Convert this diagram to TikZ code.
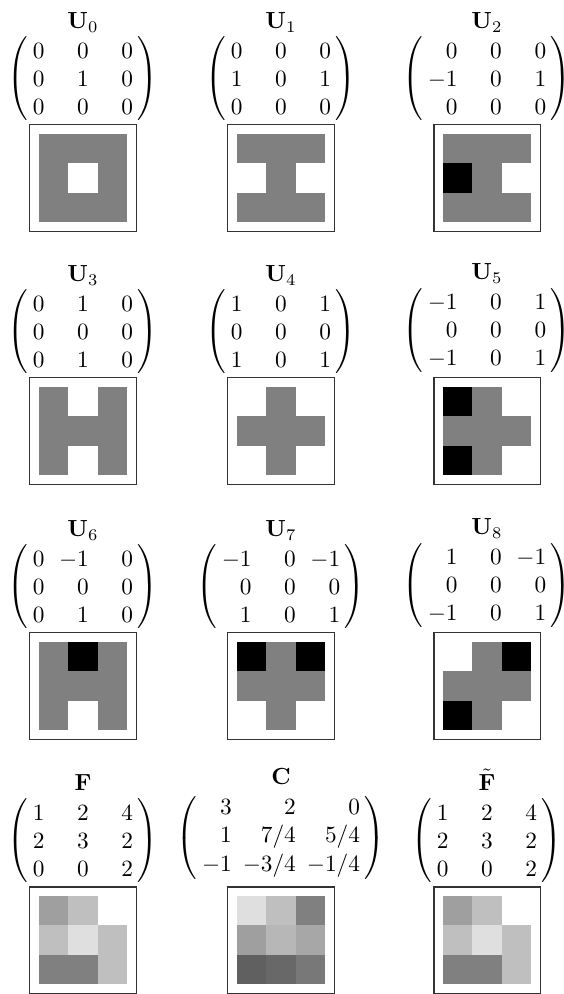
\documentclass[tikz,border=0pt]{standalone}
\usepackage{amsmath,amssymb}
\usetikzlibrary{matrix, positioning, calc}

\begin{document}
\begin{tikzpicture}[x=0.429pt, y=-0.429pt,
  imgbox/.style={rectangle, draw=black!80, line width=0.45pt, minimum size=45.5pt, inner sep=0pt},
  mat/.style={matrix of math nodes, nodes={anchor=base east, inner sep=0pt}, row sep={12.2pt,between origins}, column sep={19pt,between origins}, left delimiter=(, right delimiter=), inner xsep=0.6pt, inner ysep=3pt},
  heading/.style={inner sep=0pt},
]
  \useasboundingbox (0,0) rectangle (564,994);

  % row 1
  \node[imgbox] (b0) at (83,178) {};
  \matrix[mat, above=0.9pt of b0] (m0) {0 & 0 & 0\\ 0 & 1 & 0\\ 0 & 0 & 0\\};
  \node[heading, above=3pt of m0, anchor=base] (t0) {$\mathbf{U}_0$};
  \foreach \v [count=\k from 0, evaluate=\v as \lev using 50+50*(\v)] in {0,0,0,0,1,0,0,0,0}
    \fill[white!\lev!black] ($(b0.center)+({mod(\k,3)*29.5-44.25},{int(\k/3)*29.5-44.25})$) rectangle ++(29.5,29.5);

  \node[imgbox] (b1) at (281,178) {};
  \matrix[mat, above=0.9pt of b1] (m1) {0 & 0 & 0\\ 1 & 0 & 1\\ 0 & 0 & 0\\};
  \node[heading, above=3pt of m1, anchor=base] (t1) {$\mathbf{U}_1$};
  \foreach \v [count=\k from 0, evaluate=\v as \lev using 50+50*(\v)] in {0,0,0,1,0,1,0,0,0}
    \fill[white!\lev!black] ($(b1.center)+({mod(\k,3)*29.5-44.25},{int(\k/3)*29.5-44.25})$) rectangle ++(29.5,29.5);

  \node[imgbox] (b2) at (487,178) {};
  \matrix[mat, above=0.9pt of b2] (m2) {0 & 0 & 0\\ -1 & 0 & 1\\ 0 & 0 & 0\\};
  \node[heading, above=3pt of m2, anchor=base] (t2) {$\mathbf{U}_2$};
  \foreach \v [count=\k from 0, evaluate=\v as \lev using 50+50*(\v)] in {0,0,0,-1,0,1,0,0,0}
    \fill[white!\lev!black] ($(b2.center)+({mod(\k,3)*29.5-44.25},{int(\k/3)*29.5-44.25})$) rectangle ++(29.5,29.5);

  % row 2
  \node[imgbox] (b3) at (83,431) {};
  \matrix[mat, above=0.9pt of b3] (m3) {0 & 1 & 0\\ 0 & 0 & 0\\ 0 & 1 & 0\\};
  \node[heading, above=3pt of m3, anchor=base] (t3) {$\mathbf{U}_3$};
  \foreach \v [count=\k from 0, evaluate=\v as \lev using 50+50*(\v)] in {0,1,0,0,0,0,0,1,0}
    \fill[white!\lev!black] ($(b3.center)+({mod(\k,3)*29.5-44.25},{int(\k/3)*29.5-44.25})$) rectangle ++(29.5,29.5);

  \node[imgbox] (b4) at (281,431) {};
  \matrix[mat, above=0.9pt of b4] (m4) {1 & 0 & 1\\ 0 & 0 & 0\\ 1 & 0 & 1\\};
  \node[heading, above=3pt of m4, anchor=base] (t4) {$\mathbf{U}_4$};
  \foreach \v [count=\k from 0, evaluate=\v as \lev using 50+50*(\v)] in {1,0,1,0,0,0,1,0,1}
    \fill[white!\lev!black] ($(b4.center)+({mod(\k,3)*29.5-44.25},{int(\k/3)*29.5-44.25})$) rectangle ++(29.5,29.5);

  \node[imgbox] (b5) at (487,431) {};
  \matrix[mat, above=0.9pt of b5] (m5) {-1 & 0 & 1\\ 0 & 0 & 0\\ -1 & 0 & 1\\};
  \node[heading, above=3pt of m5, anchor=base] (t5) {$\mathbf{U}_5$};
  \foreach \v [count=\k from 0, evaluate=\v as \lev using 50+50*(\v)] in {-1,0,1,0,0,0,-1,0,1}
    \fill[white!\lev!black] ($(b5.center)+({mod(\k,3)*29.5-44.25},{int(\k/3)*29.5-44.25})$) rectangle ++(29.5,29.5);

  % row 3
  \node[imgbox] (b6) at (83,686) {};
  \matrix[mat, above=0.9pt of b6] (m6) {0 & -1 & 0\\ 0 & 0 & 0\\ 0 & 1 & 0\\};
  \node[heading, above=3pt of m6, anchor=base] (t6) {$\mathbf{U}_6$};
  \foreach \v [count=\k from 0, evaluate=\v as \lev using 50+50*(\v)] in {0,-1,0,0,0,0,0,1,0}
    \fill[white!\lev!black] ($(b6.center)+({mod(\k,3)*29.5-44.25},{int(\k/3)*29.5-44.25})$) rectangle ++(29.5,29.5);

  \node[imgbox] (b7) at (281,686) {};
  \matrix[mat, above=0.9pt of b7] (m7) {-1 & 0 & -1\\ 0 & 0 & 0\\ 1 & 0 & 1\\};
  \node[heading, above=3pt of m7, anchor=base] (t7) {$\mathbf{U}_7$};
  \foreach \v [count=\k from 0, evaluate=\v as \lev using 50+50*(\v)] in {-1,0,-1,0,0,0,1,0,1}
    \fill[white!\lev!black] ($(b7.center)+({mod(\k,3)*29.5-44.25},{int(\k/3)*29.5-44.25})$) rectangle ++(29.5,29.5);

  \node[imgbox] (b8) at (487,686) {};
  \matrix[mat, above=0.9pt of b8] (m8) {1 & 0 & -1\\ 0 & 0 & 0\\ -1 & 0 & 1\\};
  \node[heading, above=3pt of m8, anchor=base] (t8) {$\mathbf{U}_8$};
  \foreach \v [count=\k from 0, evaluate=\v as \lev using 50+50*(\v)] in {1,0,-1,0,0,0,-1,0,1}
    \fill[white!\lev!black] ($(b8.center)+({mod(\k,3)*29.5-44.25},{int(\k/3)*29.5-44.25})$) rectangle ++(29.5,29.5);

  % row 4: image, filter, result
  \node[imgbox] (bF) at (83,940) {};
  \matrix[mat, above=0.9pt of bF] (mF) {1 & 2 & 4\\ 2 & 3 & 2\\ 0 & 0 & 2\\};
  \node[heading, above=3pt of mF, anchor=base] (tF) {$\mathbf{F}$};
  \foreach \v [count=\k from 0, evaluate=\v as \lev using 50+12.5*(\v)] in {1,2,4,2,3,2,0,0,2}
    \fill[white!\lev!black] ($(bF.center)+({mod(\k,3)*29.5-44.25},{int(\k/3)*29.5-44.25})$) rectangle ++(29.5,29.5);

  \node[imgbox] (bC) at (281,940) {};
  \matrix[mat, column sep={27.5pt,between origins}, above=0.9pt of bC] (mC) {3 & 2 & 0\\ 1 & 7/4 & 5/4\\ -1 & -3/4 & -1/4\\};
  \node[heading, above=3pt of mC, anchor=base] (tC) {$\mathbf{C}$};
  \foreach \v [count=\k from 0, evaluate=\v as \lev using 50+12.5*(\v)] in {3,2,0,1,7/4,5/4,-1,-3/4,-1/4}
    \fill[white!\lev!black] ($(bC.center)+({mod(\k,3)*29.5-44.25},{int(\k/3)*29.5-44.25})$) rectangle ++(29.5,29.5);

  \node[imgbox] (bFt) at (487,940) {};
  \matrix[mat, above=0.9pt of bFt] (mFt) {1 & 2 & 4\\ 2 & 3 & 2\\ 0 & 0 & 2\\};
  \node[heading, above=3pt of mFt, anchor=base] (tFt) {$\tilde{\mathbf{F}}$};
  \foreach \v [count=\k from 0, evaluate=\v as \lev using 50+12.5*(\v)] in {1,2,4,2,3,2,0,0,2}
    \fill[white!\lev!black] ($(bFt.center)+({mod(\k,3)*29.5-44.25},{int(\k/3)*29.5-44.25})$) rectangle ++(29.5,29.5);
\end{tikzpicture}
\end{document}
